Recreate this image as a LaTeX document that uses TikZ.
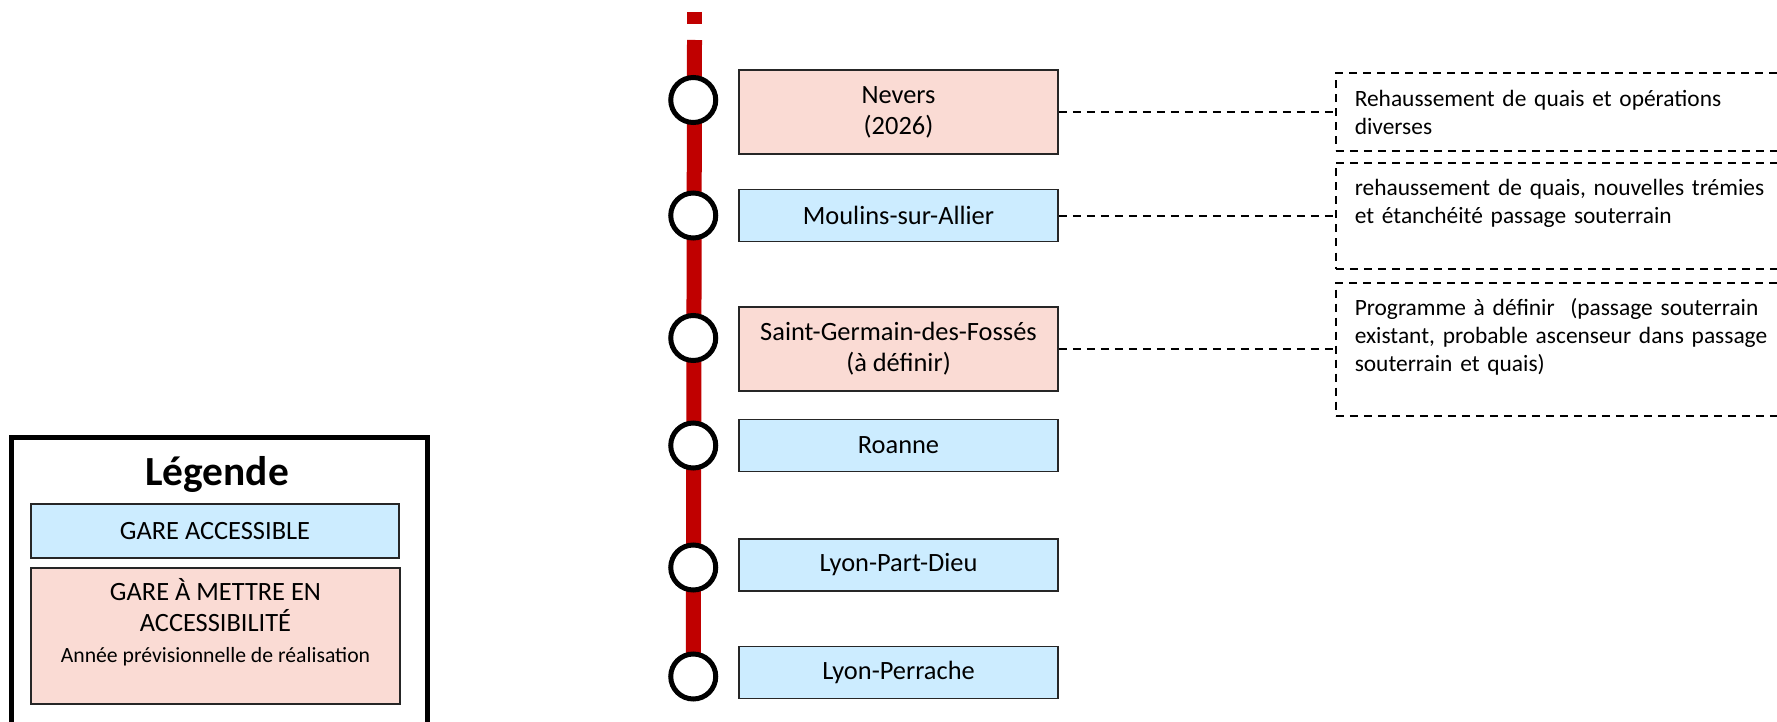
\documentclass[tikz,border=0pt]{standalone}
\usepackage{fontspec}
\setmainfont{Carlito}
\usetikzlibrary{positioning, backgrounds}

\definecolor{okblue}{RGB}{204,236,255}
\definecolor{todopink}{RGB}{250,219,212}
\definecolor{railred}{RGB}{192,0,0}

\begin{document}
\begin{tikzpicture}[
    x=0.5pt, y=-0.5pt,
    every node/.style={font=\fontsize{13.2}{15.5}\selectfont},
    station/.style={
        rectangle,
        draw=black!85,
        line width=0.75pt,
        fill=okblue,
        minimum width=159.5pt,
        minimum height=26pt,
        align=center
    },
    todo/.style={station, fill=todopink, minimum height=42pt},
    stop/.style={circle, draw=black, line width=2.5pt, fill=white, minimum size=22.5pt, inner sep=0pt},
    note/.style={
        rectangle,
        draw=black,
        line width=1pt,
        dash pattern=on 4pt off 3pt,
        inner xsep=9.5pt,
        text width=240pt,
        align=left,
        font=\fontsize{11.7}{14}\selectfont
    },
    link/.style={line width=1pt, dash pattern=on 4pt off 3pt, color=black},
    rail/.style={line width=7.5pt, color=railred}
]
    \useasboundingbox (0,0) rectangle (1777,722);
    \clip (0,0) rectangle (1777,722);

    % Stations
    \node (nevers) [todo] at (898.5,112) {Nevers\\(2026)};
    \node (moulins) [station, below=17pt of nevers] {Moulins-sur-Allier};
    \node (stgermain) [todo, below=32pt of moulins] {Saint-Germain-des-Fossés\\(à définir)};
    \node (roanne) [station, below=13.5pt of stgermain] {Roanne};
    \node (partdieu) [station, below=33pt of roanne] {Lyon-Part-Dieu};
    \node (perrache) [station, below=27pt of partdieu] {Lyon-Perrache};

    % Stops on the line
    \node (c_nevers) [stop, left=10pt of nevers, yshift=6pt] {};
    \node (c_moulins) [stop, left=10pt of moulins] {};
    \node (c_stgermain) [stop, left=10pt of stgermain, yshift=5.5pt] {};
    \node (c_roanne) [stop, left=10pt of roanne] {};
    \node (c_partdieu) [stop, left=10pt of partdieu, yshift=-1.25pt] {};
    \node (c_perrache) [stop, left=10pt of perrache, yshift=-2pt] {};

    % Rail line behind the stops
    \coordinate (dashtop) at (694.5,12);
    \coordinate (dashend) at (694.5,24);
    \coordinate (railtop) at (694.5,40);
    \begin{scope}[on background layer]
        \draw [rail] (dashtop) -- (dashend);
        \draw [rail] (railtop) -- (c_perrache.center);
    \end{scope}

    % Notes
    \node (n_nevers) [note, minimum height=38.5pt, right=138pt of nevers]
        {Rehaussement de quais et opérations\\diverses};
    \node (n_moulins) [note, minimum height=53pt, right=138pt of moulins]
        {rehaussement de quais, nouvelles trémies\\et étanchéité passage souterrain\\ \mbox{}};
    \node (n_stgermain) [note, minimum height=66.5pt, right=138pt of stgermain]
        {Programme à définir~ (passage souterrain\\existant, probable ascenseur dans passage\\souterrain et quais)\\ \mbox{}};

    \draw [link] (nevers) -- (n_nevers);
    \draw [link] (moulins) -- (n_moulins);
    \draw [link] (stgermain) -- (n_stgermain);

    % Legend
    \draw [line width=2.5pt, black] (11.5,437.5) rectangle (427.5,760);
    \node (legtitle) [anchor=base, font=\fontsize{20.7}{25}\selectfont\bfseries] at (217,485) {Légende};
    \node (key_ok) [station, minimum width=184pt, minimum height=27pt] at (215,531) {GARE ACCESSIBLE};
    \node (key_todo) [todo, minimum width=184.5pt, minimum height=68pt] at (215.5,636)
        {GARE À METTRE EN\\ACCESSIBILITÉ\\{\fontsize{10.85}{13}\selectfont Année prévisionnelle de réalisation}\\ \mbox{}};

\end{tikzpicture}
\end{document}
